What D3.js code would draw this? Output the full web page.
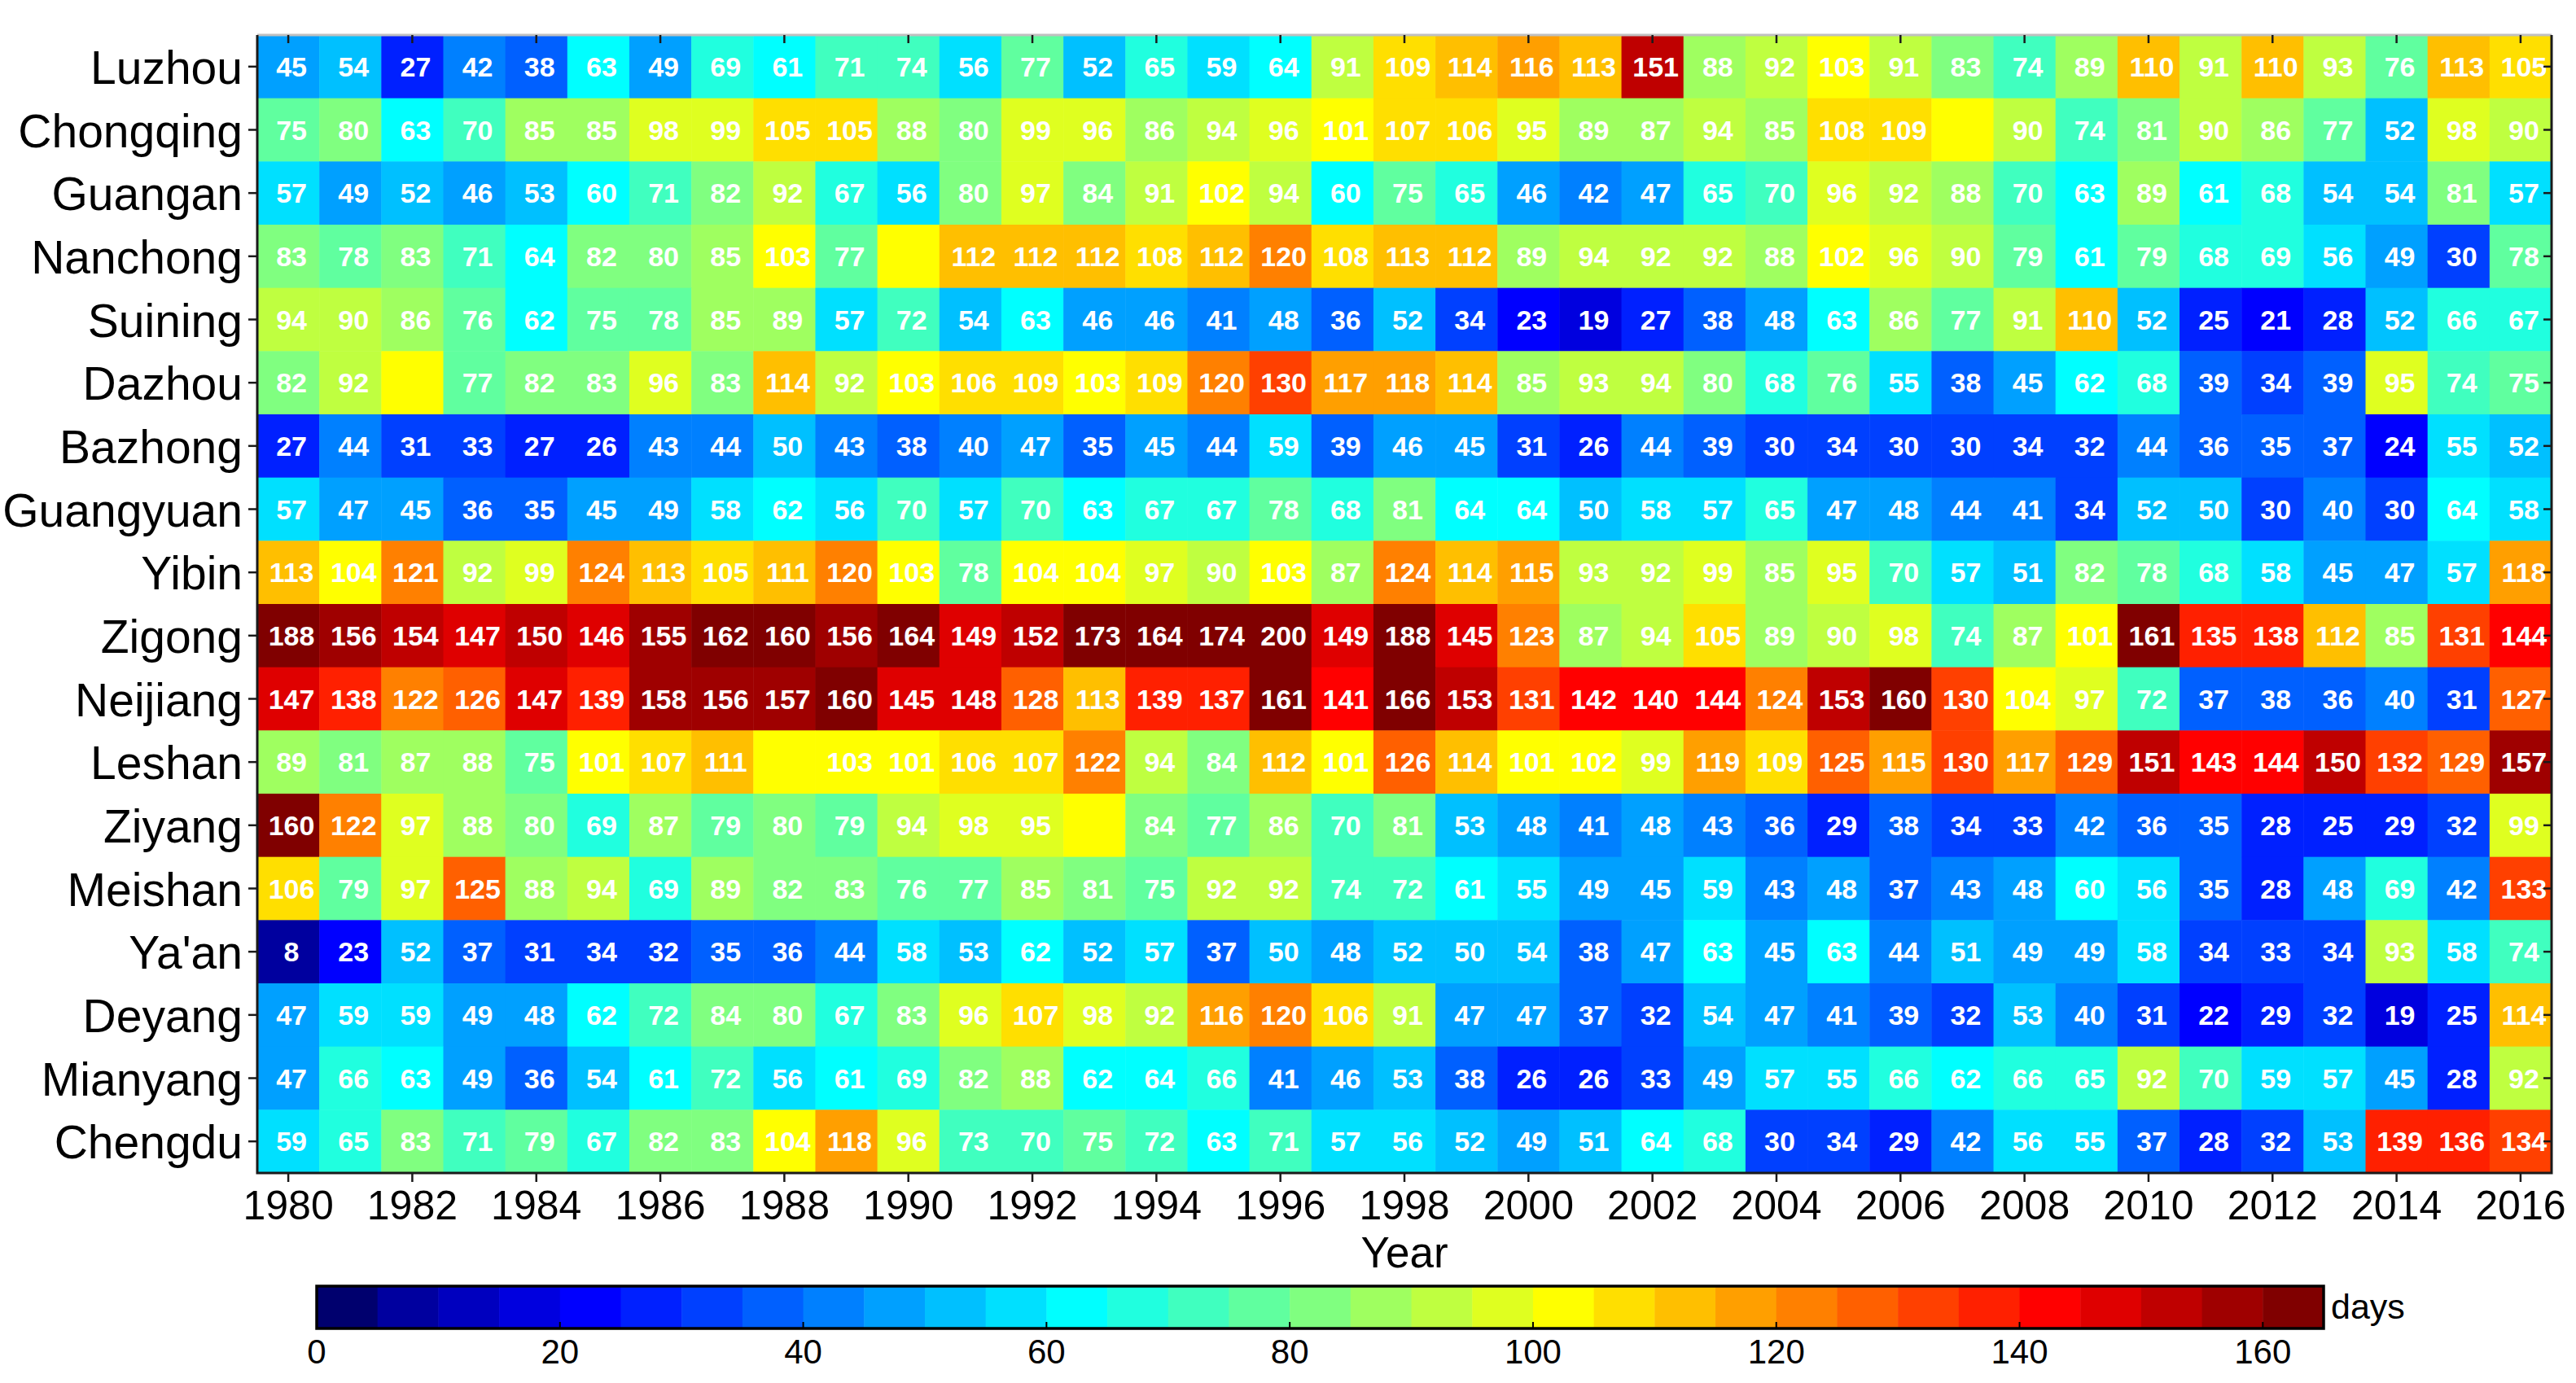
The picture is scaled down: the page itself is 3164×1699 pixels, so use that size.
<!DOCTYPE html>
<html>
<head>
<meta charset="utf-8">
<script src="https://cdn.jsdelivr.net/npm/d3@7"></script>
<style>
  body { margin: 0; background: #fff; }
  svg { display: block; font-family: "Liberation Sans", Arial, sans-serif; }
</style>
</head>
<body>
<svg id="chart" width="3164" height="1699"></svg>
<script>
// Data: days per year for each city, 1980-2016
const years = d3.range(1980, 2017);
const yearTicks = d3.range(1980, 2017, 2);
const cities = ['Luzhou', 'Chongqing', 'Guangan', 'Nanchong', 'Suining', 'Dazhou', 'Bazhong', 'Guangyuan', 'Yibin',
    'Zigong', 'Neijiang', 'Leshan', 'Ziyang', 'Meishan', "Ya'an", 'Deyang', 'Mianyang', 'Chengdu'];

const luzhou    = [45, 54, 27, 42, 38, 63, 49, 69, 61, 71, 74, 56, 77, 52, 65, 59, 64, 91, 109, 114, 116, 113, 151, 88, 92, 103, 91, 83, 74, 89, 110, 91, 110, 93, 76, 113, 105];
const chongqing = [75, 80, 63, 70, 85, 85, 98, 99, 105, 105, 88, 80, 99, 96, 86, 94, 96, 101, 107, 106, 95, 89, 87, 94, 85, 108, 109, 100, 90, 74, 81, 90, 86, 77, 52, 98, 90];
const guangan   = [57, 49, 52, 46, 53, 60, 71, 82, 92, 67, 56, 80, 97, 84, 91, 102, 94, 60, 75, 65, 46, 42, 47, 65, 70, 96, 92, 88, 70, 63, 89, 61, 68, 54, 54, 81, 57];
const nanchong  = [83, 78, 83, 71, 64, 82, 80, 85, 103, 77, 100, 112, 112, 112, 108, 112, 120, 108, 113, 112, 89, 94, 92, 92, 88, 102, 96, 90, 79, 61, 79, 68, 69, 56, 49, 30, 78];
const suining   = [94, 90, 86, 76, 62, 75, 78, 85, 89, 57, 72, 54, 63, 46, 46, 41, 48, 36, 52, 34, 23, 19, 27, 38, 48, 63, 86, 77, 91, 110, 52, 25, 21, 28, 52, 66, 67];
const dazhou    = [82, 92, 100, 77, 82, 83, 96, 83, 114, 92, 103, 106, 109, 103, 109, 120, 130, 117, 118, 114, 85, 93, 94, 80, 68, 76, 55, 38, 45, 62, 68, 39, 34, 39, 95, 74, 75];
const bazhong   = [27, 44, 31, 33, 27, 26, 43, 44, 50, 43, 38, 40, 47, 35, 45, 44, 59, 39, 46, 45, 31, 26, 44, 39, 30, 34, 30, 30, 34, 32, 44, 36, 35, 37, 24, 55, 52];
const guangyuan = [57, 47, 45, 36, 35, 45, 49, 58, 62, 56, 70, 57, 70, 63, 67, 67, 78, 68, 81, 64, 64, 50, 58, 57, 65, 47, 48, 44, 41, 34, 52, 50, 30, 40, 30, 64, 58];
const yibin     = [113, 104, 121, 92, 99, 124, 113, 105, 111, 120, 103, 78, 104, 104, 97, 90, 103, 87, 124, 114, 115, 93, 92, 99, 85, 95, 70, 57, 51, 82, 78, 68, 58, 45, 47, 57, 118];
const zigong    = [188, 156, 154, 147, 150, 146, 155, 162, 160, 156, 164, 149, 152, 173, 164, 174, 200, 149, 188, 145, 123, 87, 94, 105, 89, 90, 98, 74, 87, 101, 161, 135, 138, 112, 85, 131, 144];
const neijiang  = [147, 138, 122, 126, 147, 139, 158, 156, 157, 160, 145, 148, 128, 113, 139, 137, 161, 141, 166, 153, 131, 142, 140, 144, 124, 153, 160, 130, 104, 97, 72, 37, 38, 36, 40, 31, 127];
const leshan    = [89, 81, 87, 88, 75, 101, 107, 111, 100, 103, 101, 106, 107, 122, 94, 84, 112, 101, 126, 114, 101, 102, 99, 119, 109, 125, 115, 130, 117, 129, 151, 143, 144, 150, 132, 129, 157];
const ziyang    = [160, 122, 97, 88, 80, 69, 87, 79, 80, 79, 94, 98, 95, 100, 84, 77, 86, 70, 81, 53, 48, 41, 48, 43, 36, 29, 38, 34, 33, 42, 36, 35, 28, 25, 29, 32, 99];
const meishan   = [106, 79, 97, 125, 88, 94, 69, 89, 82, 83, 76, 77, 85, 81, 75, 92, 92, 74, 72, 61, 55, 49, 45, 59, 43, 48, 37, 43, 48, 60, 56, 35, 28, 48, 69, 42, 133];
const yaan      = [8, 23, 52, 37, 31, 34, 32, 35, 36, 44, 58, 53, 62, 52, 57, 37, 50, 48, 52, 50, 54, 38, 47, 63, 45, 63, 44, 51, 49, 49, 58, 34, 33, 34, 93, 58, 74];
const deyang    = [47, 59, 59, 49, 48, 62, 72, 84, 80, 67, 83, 96, 107, 98, 92, 116, 120, 106, 91, 47, 47, 37, 32, 54, 47, 41, 39, 32, 53, 40, 31, 22, 29, 32, 19, 25, 114];
const mianyang  = [47, 66, 63, 49, 36, 54, 61, 72, 56, 61, 69, 82, 88, 62, 64, 66, 41, 46, 53, 38, 26, 26, 33, 49, 57, 55, 66, 62, 66, 65, 92, 70, 59, 57, 45, 28, 92];
const chengdu   = [59, 65, 83, 71, 79, 67, 82, 83, 104, 118, 96, 73, 70, 75, 72, 63, 71, 57, 56, 52, 49, 51, 64, 68, 30, 34, 29, 42, 56, 55, 37, 28, 32, 53, 139, 136, 134];

const rows = [luzhou, chongqing, guangan, nanchong, suining, dazhou, bazhong, guangyuan, yibin,
    zigong, neijiang, leshan, ziyang, meishan, yaan, deyang, mianyang, chengdu];

const colorTicks = d3.range(0, 161, 20);

// jet-like colormap, 33 steps of 5 days (0-165)
const jetColors = ['#00006e', '#00009f', '#0000bf', '#0000df', '#0000ff', '#0020ff', '#0040ff', '#0060ff',
    '#0080ff', '#00a0ff', '#00c0ff', '#00e0ff', '#00ffff', '#20ffdf', '#40ffbf', '#60ff9f', '#80ff80',
    '#9fff60', '#bfff40', '#dfff20', '#ffff00', '#ffdf00', '#ffbf00', '#ff9f00', '#ff8000', '#ff6000',
    '#ff4000', '#ff2000', '#ff0000', '#df0000', '#bf0000', '#9f0000', '#800000'];

const svg = d3.select('#chart');

const gLeft = 316, gRight = 3134, gTop = 43, gBottom = 1441;

const x = d3.scaleBand().domain(years).range([gLeft, gRight]);
const y = d3.scaleBand().domain(cities).range([gTop, gBottom]);
const color = d3.scaleThreshold().domain(d3.range(5, 165, 5)).range(jetColors);

const cells = [];
rows.forEach((r, i) => r.forEach((v, j) => cells.push({ city: cities[i], year: years[j], value: v })));

// Cells
svg.append('g').selectAll('rect')
    .data(cells)
    .enter().append('rect')
    .attr('x', d => x(d.year))
    .attr('y', d => y(d.city))
    .attr('width', x.bandwidth() + 0.5)
    .attr('height', y.bandwidth() + 0.5)
    .attr('fill', d => color(d.value));

// Cell labels (value 100 cells have no label in the original)
svg.append('g').selectAll('text')
    .data(cells.filter(d => d.value !== 100))
    .enter().append('text')
    .attr('x', d => x(d.year) + x.bandwidth() / 2 + 4)
    .attr('y', d => y(d.city) + y.bandwidth() / 2 + 12)
    .attr('text-anchor', 'middle')
    .attr('font-size', '34px')
    .attr('font-weight', 'bold')
    .attr('fill', '#fff')
    .text(d => d.value);

// Frame
const frame = svg.append('g').attr('fill', 'none');
frame.append('line').attr('x1', gLeft).attr('x2', gRight).attr('y1', gTop).attr('y2', gTop)
    .attr('stroke', '#c0c0c0').attr('stroke-width', 3);
frame.append('path')
    .attr('d', `M${gLeft},${gTop}V${gBottom}H${gRight}V${gTop}`)
    .attr('stroke', '#1a1a1a').attr('stroke-width', 3);

// Ticks
const ticks = svg.append('g').attr('stroke', '#1a1a1a').attr('stroke-width', 2.5);
yearTicks.forEach(t => {
    const tx = x(t) + x.bandwidth() / 2;
    ticks.append('line').attr('x1', tx).attr('x2', tx).attr('y1', gBottom).attr('y2', gBottom + 11);
    ticks.append('line').attr('x1', tx).attr('x2', tx).attr('y1', gTop).attr('y2', gTop + 10);
});
cities.forEach(c => {
    const ty = y(c) + y.bandwidth() / 2;
    ticks.append('line').attr('x1', gLeft - 11).attr('x2', gLeft).attr('y1', ty).attr('y2', ty);
    ticks.append('line').attr('x1', gRight - 10).attr('x2', gRight).attr('y1', ty).attr('y2', ty);
});

// Axis labels
svg.append('g').selectAll('text')
    .data(cities)
    .enter().append('text')
    .attr('x', gLeft - 18)
    .attr('y', d => y(d) + y.bandwidth() / 2 + 21)
    .attr('text-anchor', 'end')
    .attr('font-size', '57px')
    .attr('fill', '#000')
    .text(d => d);

svg.append('g').selectAll('text')
    .data(yearTicks)
    .enter().append('text')
    .attr('x', d => x(d) + x.bandwidth() / 2)
    .attr('y', 1498)
    .attr('text-anchor', 'middle')
    .attr('font-size', '50px')
    .attr('fill', '#000')
    .text(d => d);

svg.append('text')
    .attr('x', (gLeft + gRight) / 2)
    .attr('y', 1557)
    .attr('text-anchor', 'middle')
    .attr('font-size', '53px')
    .attr('fill', '#000')
    .text('Year');

// Colorbar
const cbTop = 1580, cbBottom = 1632;
const cx = d3.scaleLinear().domain([0, 165]).range([389, 2854]);
const bins = d3.range(0, 165, 5);

svg.append('g').selectAll('rect')
    .data(bins)
    .enter().append('rect')
    .attr('x', d => cx(d))
    .attr('y', cbTop)
    .attr('width', cx(5) - cx(0) + 0.5)
    .attr('height', cbBottom - cbTop)
    .attr('fill', d => color(d));

svg.append('rect')
    .attr('x', cx(0)).attr('y', cbTop)
    .attr('width', cx(165) - cx(0)).attr('height', cbBottom - cbTop)
    .attr('fill', 'none').attr('stroke', '#000').attr('stroke-width', 3.5);

const cbAxis = svg.append('g');
colorTicks.forEach(t => {
    cbAxis.append('line')
        .attr('x1', cx(t)).attr('x2', cx(t))
        .attr('y1', cbBottom - 8).attr('y2', cbBottom)
        .attr('stroke', '#000').attr('stroke-width', 2);
    cbAxis.append('text')
        .attr('x', cx(t))
        .attr('y', 1675)
        .attr('text-anchor', 'middle')
        .attr('font-size', '42px')
        .attr('fill', '#000')
        .text(t);
});

svg.append('text')
    .attr('x', 2863)
    .attr('y', 1620)
    .attr('font-size', '43px')
    .attr('fill', '#000')
    .text('days');
</script>
</body>
</html>
